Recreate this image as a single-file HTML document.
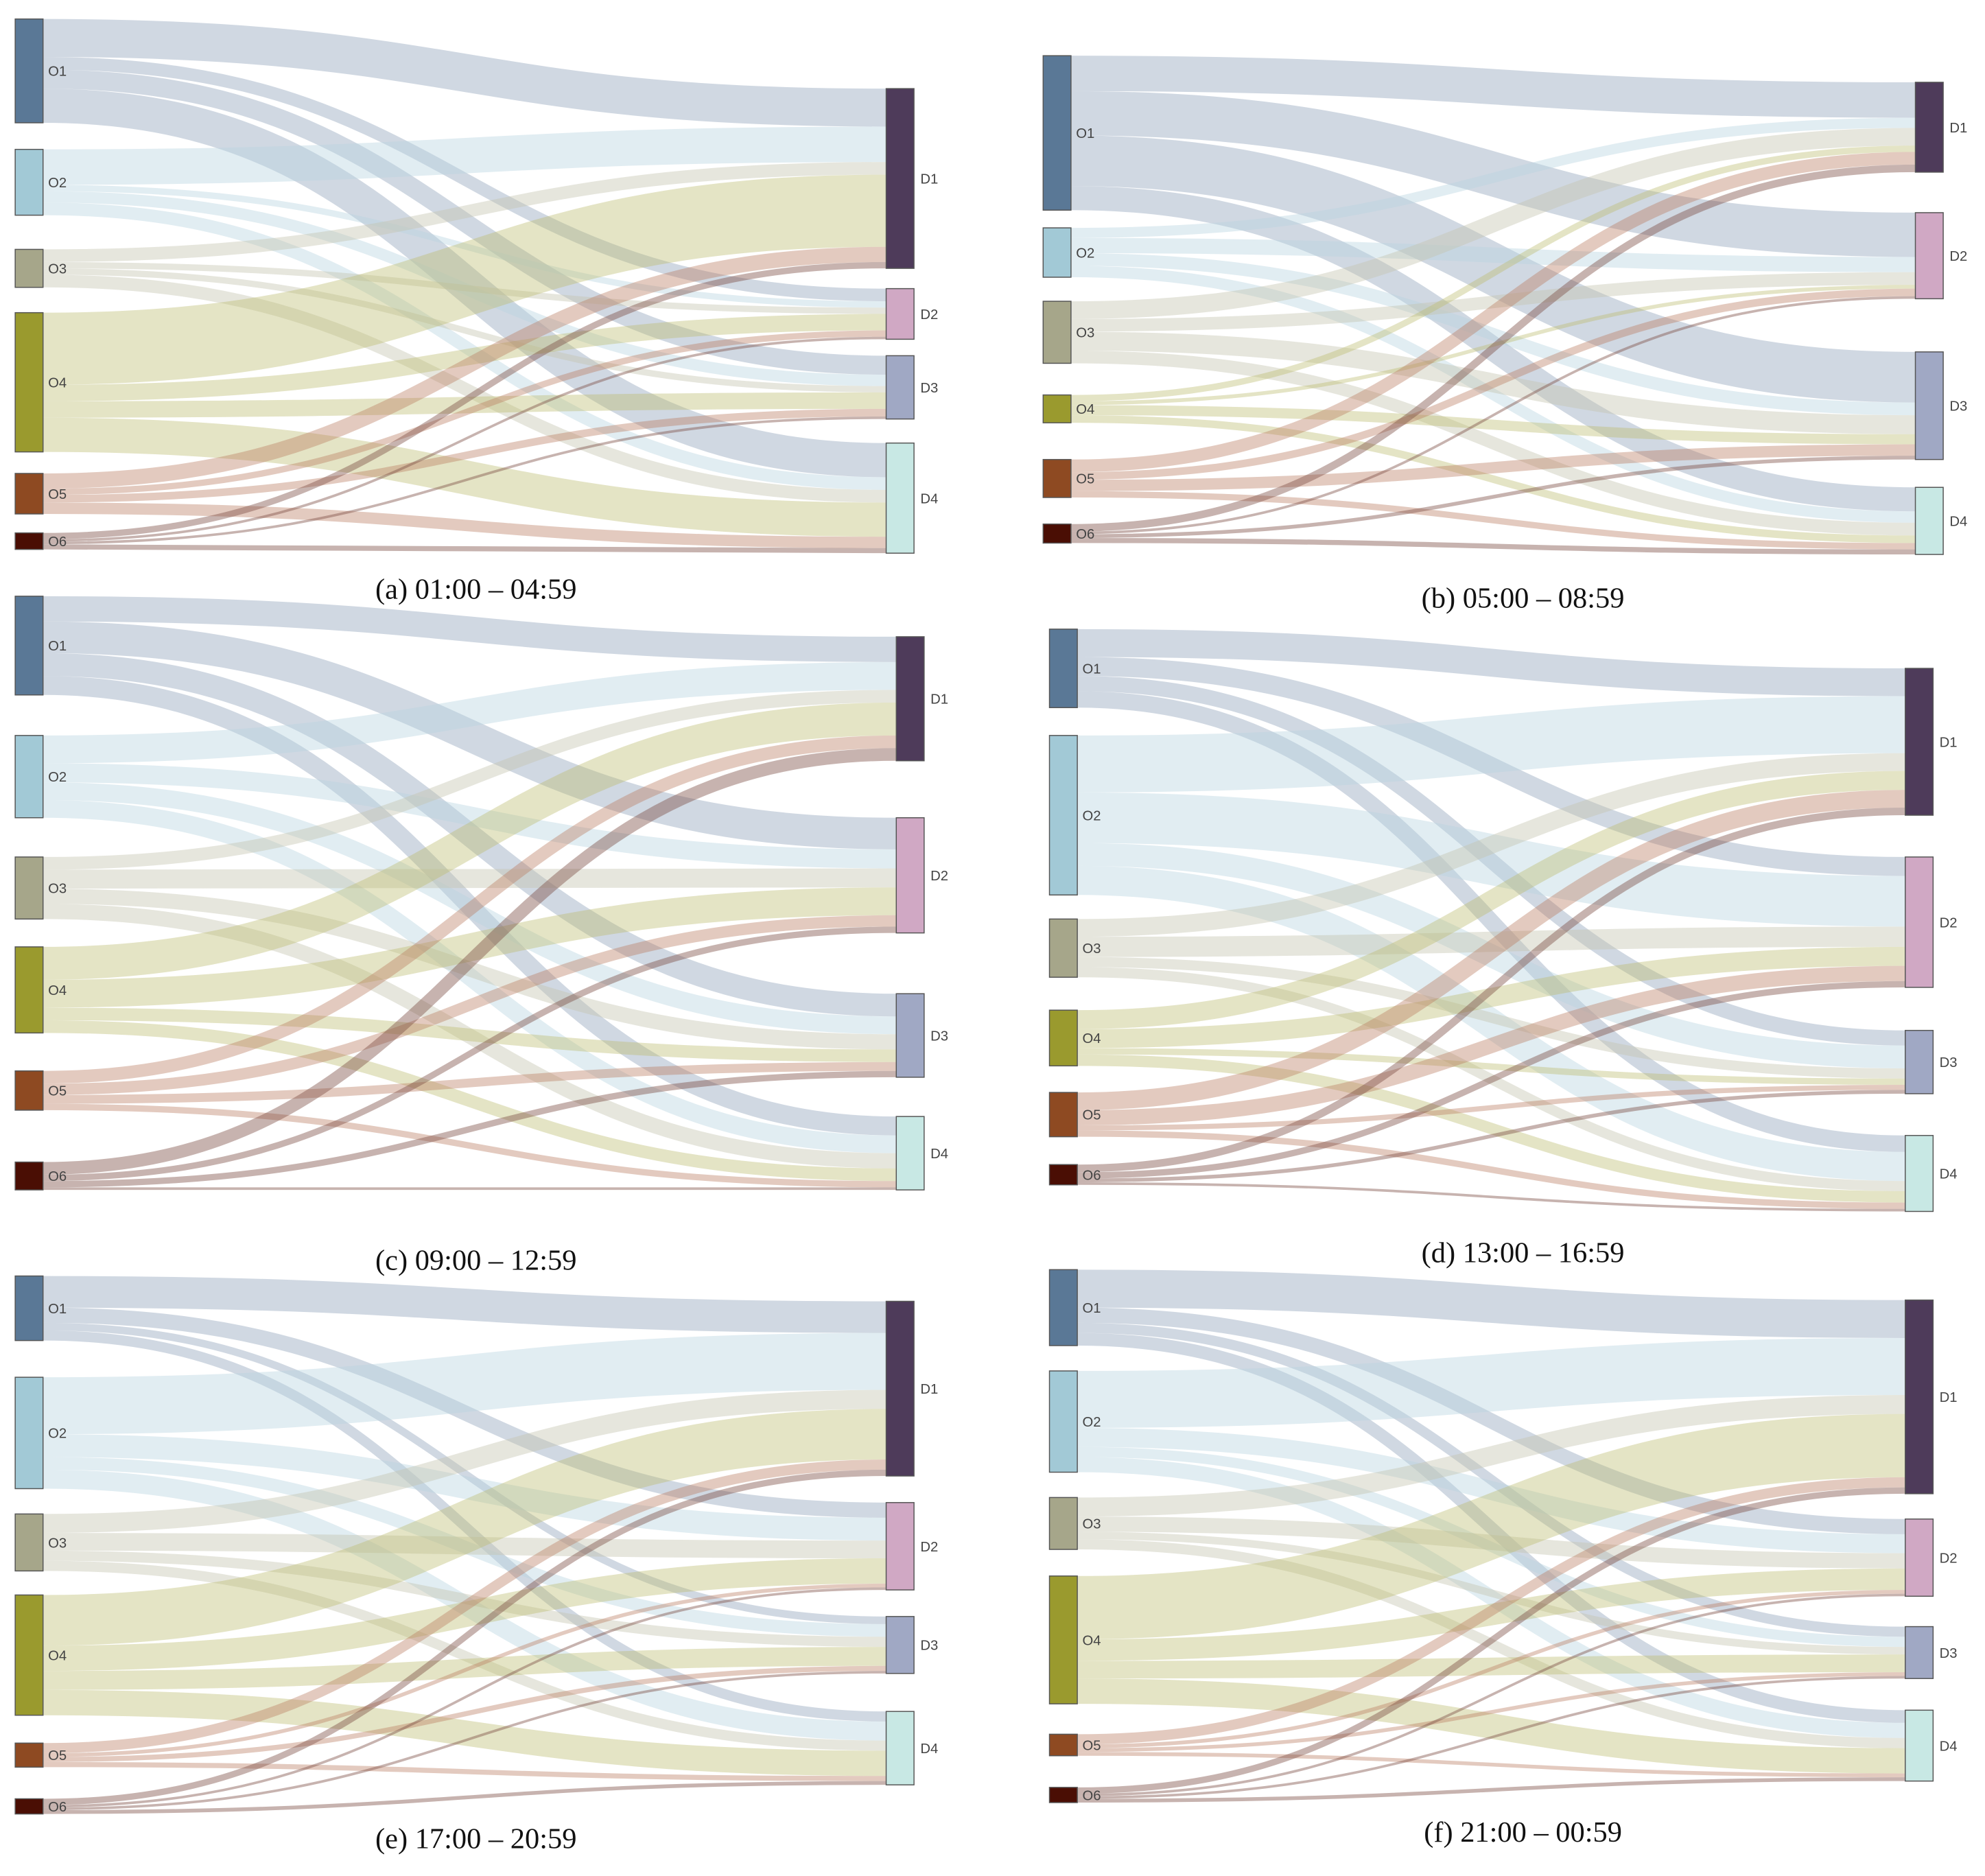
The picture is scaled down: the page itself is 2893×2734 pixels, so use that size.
<!DOCTYPE html>
<html><head><meta charset="utf-8"><style>
html,body{margin:0;padding:0;background:#fff}
svg{display:block}
</style></head><body>
<svg id="chart" width="2893" height="2734" viewBox="0 0 1568 1482" preserveAspectRatio="none" xmlns="http://www.w3.org/2000/svg"></svg>
<script>
// Flow values: rows O1..O6, columns D1..D4
const originLabels = ["O1","O2","O3","O4","O5","O6"];
const destLabels = ["D1","D2","D3","D4"];
const flowsA = [[30,10,15,27],[28,5,9,10],[10,5,5,10],[57,13,13,27],[12,5,6,9],[5,2,2,4]];
const flowsB = [[28,35,40,19],[8,12,10,9],[14,10,15,10],[5,3,8,6],[10,6,9,5],[6,2,3,4]];
const flowsC = [[20,25,18,15],[22,15,14,14],[10,15,12,12],[26,22,10,10],[10,9,7,5],[10,5,5,2]];
const flowsD = [[22,15,12,13],[45,40,18,23],[14,16,8,8],[15,15,5,9],[14,12,4,5],[6,5,3,2]];
const flowsE = [[25,12,6,8],[45,18,10,15],[15,14,8,8],[40,20,15,20],[8,3,4,4],[5,2,2,3]];
const flowsF = [[30,12,8,10],[45,15,8,12],[15,12,6,8],[50,17,14,20],[8,3,3,3],[5,2,2,3]];
const captions = ["(a) 01:00 – 04:59","(b) 05:00 – 08:59","(c) 09:00 – 12:59","(d) 13:00 – 16:59","(e) 17:00 – 20:59","(f) 21:00 – 00:59"];

const oColors=["#5a7896","#a2c9d6","#a6a68a","#9a9a2e","#8e4a22","#4a0e04"];
const lColors=["#8ea2ba","#b8d4e0","#c4c4ae","#bcbc6e","#b87a60","#7a4a40"];
const lOp=[0.42,0.42,0.42,0.4,0.4,0.42];
const dColors=["#4e3b5a","#d0a8c4","#a0a8c4","#c8e8e4"];

const panels=[
 {id:"a",flows:flowsA,ox:12,dx:700,oy:[15,118,197,247,374,421],dy:[70,228,281,350],cx:376,cy:473},
 {id:"b",flows:flowsB,ox:824,dx:1513,oy:[44,180,238,312,363,414],dy:[65,168,278,385],cx:1203,cy:480},
 {id:"c",flows:flowsC,ox:12,dx:708,oy:[471,581,677,748,846,918],dy:[503,646,785,882],cx:376,cy:1003},
 {id:"d",flows:flowsD,ox:829,dx:1505,oy:[497,581,726,798,863,920],dy:[528,677,814,897],cx:1203,cy:997},
 {id:"e",flows:flowsE,ox:12,dx:700,oy:[1008,1088,1196,1260,1377,1421],dy:[1028,1187,1277,1352],cx:376,cy:1460},
 {id:"f",flows:flowsF,ox:829,dx:1505,oy:[1003,1083,1183,1245,1370,1412],dy:[1027,1200,1285,1351],cx:1203,cy:1455}
];
const NS="http://www.w3.org/2000/svg";
const svg=document.getElementById("chart");
const W=22;
function mk(tag,attrs,parent){const e=document.createElementNS(NS,tag);for(const k in attrs)e.setAttribute(k,attrs[k]);parent.appendChild(e);return e;}
panels.forEach(p=>{
  const g=mk("g",{},svg);
  
  
  const F=p.flows;
  const oTot=F.map(r=>r.reduce((a,b)=>a+b,0));
  const dTot=destLabels.map((_,j)=>F.reduce((a,r)=>a+r[j],0));
  const oOff=p.oy.slice(), dOff=p.dy.slice();
  const x0=p.ox+W, x1=p.dx, xm=(x0+x1)/2;
  const lg=mk("g",{},g);
  
  
  for(let i=0;i<F.length;i++){
    for(let j=0;j<4;j++){
      const v=F[i][j];
      const y0=oOff[i]+v/2, y1=dOff[j]+v/2;
      oOff[i]+=v; dOff[j]+=v;
      const path=mk("path",{d:`M${x0},${y0} C${xm},${y0} ${xm},${y1} ${x1},${y1}`,fill:"none",stroke:lColors[i],"stroke-opacity":lOp[i],"stroke-width":v},lg);
      
      
    }
  }
  for(let i=0;i<6;i++){
    const r=mk("rect",{x:p.ox,y:p.oy[i],width:W,height:oTot[i],fill:oColors[i],stroke:"#555","stroke-width":0.8},g);
    
    
    const t=mk("text",{x:p.ox+W+4,y:p.oy[i]+oTot[i]/2+4,"font-size":11,fill:"#444","font-family":"Liberation Sans, sans-serif"},g);
    t.textContent=originLabels[i];
    
    
  }
  for(let j=0;j<4;j++){
    const r=mk("rect",{x:p.dx,y:p.dy[j],width:W,height:dTot[j],fill:dColors[j],stroke:"#555","stroke-width":0.8},g);
    
    
    const t=mk("text",{x:p.dx+W+5,y:p.dy[j]+dTot[j]/2+4,"font-size":11,fill:"#444","font-family":"Liberation Sans, sans-serif"},g);
    t.textContent=destLabels[j];
    
    
  }
  const c=mk("text",{x:p.cx,y:p.cy,"font-size":23,"text-anchor":"middle",fill:"#111","font-family":"Liberation Serif, serif"},g);
  c.textContent=captions["abcdef".indexOf(p.id)];
  
  
});
</script>
</body></html>
